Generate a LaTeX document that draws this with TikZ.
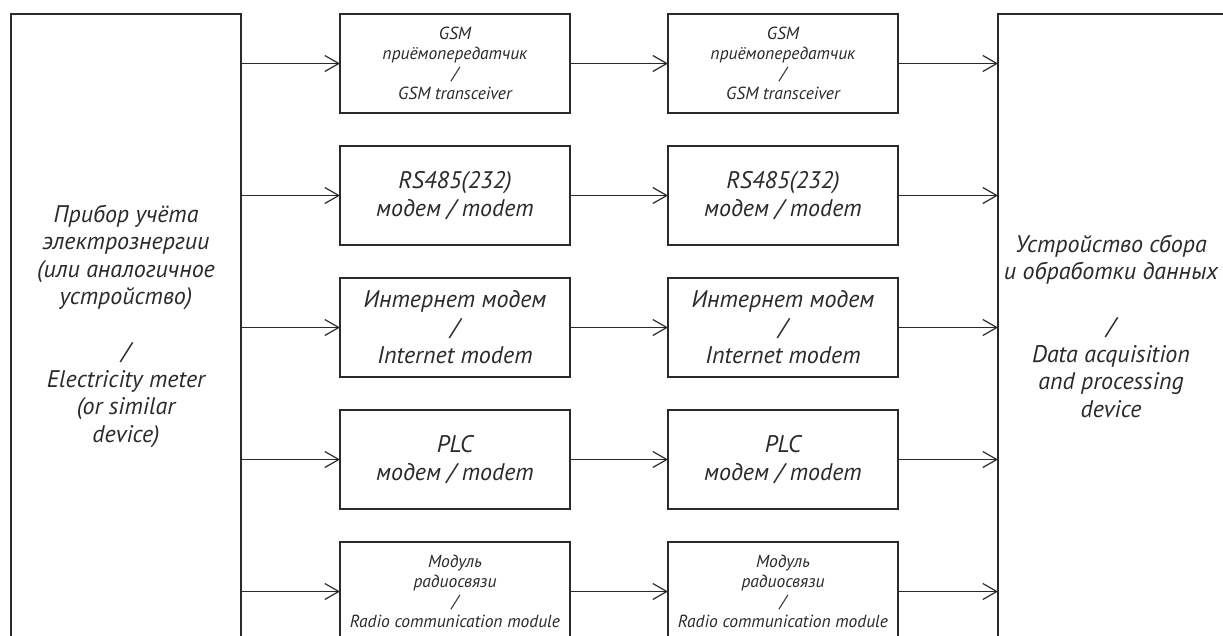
\documentclass[tikz,border=0pt]{standalone}
\usepackage{fontspec}
\setmainfont{PT Sans}
\usetikzlibrary{arrows.meta}
\definecolor{ink}{HTML}{2A2A2A}
\tikzset{
  blk/.style={draw=ink, line width=1.2pt, rectangle, inner sep=0pt, outer sep=0pt,
    minimum width=230pt, minimum height=99pt, anchor=north west, align=center,
    text=ink},
  bigtxt/.style={font=\fontsize{24}{28}\selectfont\itshape},
  smalltxt/.style={font=\fontsize{17.5}{20}\selectfont\itshape},
  sidetxt/.style={font=\fontsize{24}{27.5}\selectfont\itshape, align=center, text=ink},
  sidebox/.style={draw=ink, line width=1.2pt, rectangle, inner sep=0pt, outer sep=0pt,
    anchor=north west},
  conn/.style={draw=ink, line width=1.2pt, -{Straight Barb[length=14pt,width=16pt,line width=1.2pt]}},
}
\begin{document}
\begin{tikzpicture}[x=1pt,y=-1pt]
\useasboundingbox (0,0) rectangle (1223,635);
\clip (0,0) rectangle (1223,635);
\fill[white] (0,0) rectangle (1223,635);
% side boxes
\node[sidebox, minimum width=230pt, minimum height=700pt] (meter) at (11,14) {};
\node[sidebox, minimum width=320pt, minimum height=700pt] (dac) at (998,14) {};
\node[sidetxt] (metertxt) at (126,326) {Прибор учёта\\электрознергии\\(или аналогичное\\устройство)\\[27.5pt]/\\Electricity meter\\(or similar\\device)};
\node[sidetxt] (dactxt) at (1111,326) {Устройство сбора\\и обработки данных\\[27.5pt]/\\Data acquisition\\and processing\\device};
% column 1
\node[blk, smalltxt] (g1) at (340,14) {GSM\\приёмопередатчик\\/\\GSM transceiver};
\node[blk, bigtxt] (r1) at (340,146) {RS485(232)\\модем / modem};
\node[blk, bigtxt] (i1) at (340,278) {Интернет модем\\/\\Internet modem};
\node[blk, bigtxt] (p1) at (340,410) {PLC\\модем / modem};
\node[blk, smalltxt] (m1) at (340,542) {Модуль\\радиосвязи\\/\\Radio communication module};
% column 2
\node[blk, smalltxt] (g2) at (668,14) {GSM\\приёмопередатчик\\/\\GSM transceiver};
\node[blk, bigtxt] (r2) at (668,146) {RS485(232)\\модем / modem};
\node[blk, bigtxt] (i2) at (668,278) {Интернет модем\\/\\Internet modem};
\node[blk, bigtxt] (p2) at (668,410) {PLC\\модем / modem};
\node[blk, smalltxt] (m2) at (668,542) {Модуль\\радиосвязи\\/\\Radio communication module};
% connectors
\foreach \a/\b in {g1/g2,r1/r2,i1/i2,p1/p2,m1/m2}{
  \draw[conn] (meter.east |- \a.west) -- (\a.west);
  \draw[conn] (\a.east) -- (\b.west);
  \draw[conn] (\b.east) -- (dac.west |- \b.east);
}
\end{tikzpicture}
\end{document}
